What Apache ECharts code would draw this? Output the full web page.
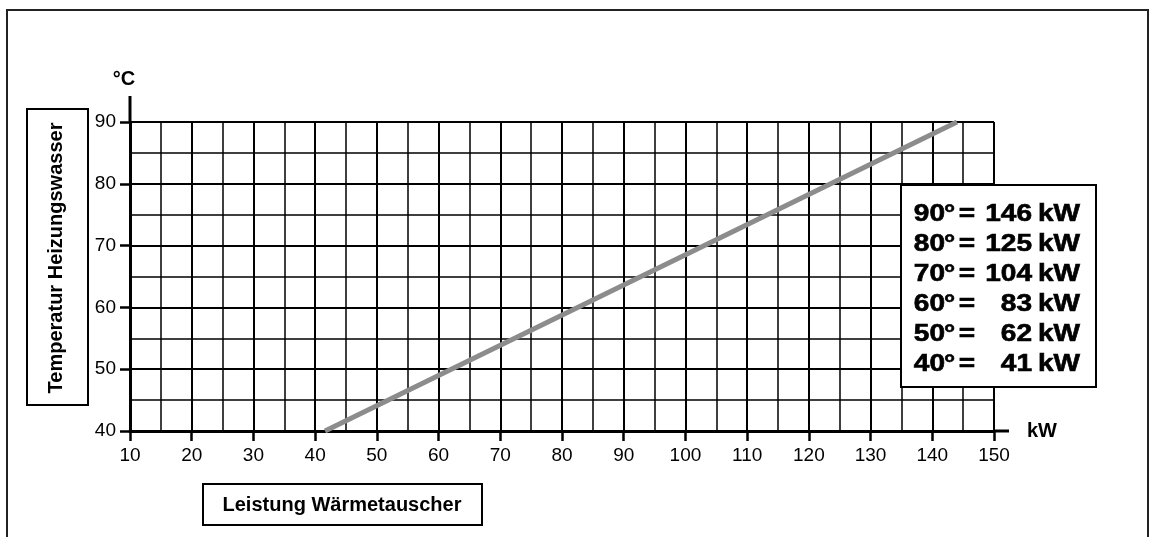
<!DOCTYPE html>
<html>
<head>
<meta charset="utf-8">
<script src="https://cdn.jsdelivr.net/npm/echarts@6/dist/echarts.min.js"></script>
<style>
html, body { margin: 0; padding: 0; background: #fff; }
#chart { width: 1152px; height: 537px; }
</style>
</head>
<body>
<div id="chart"></div>
<script>
// axis ranges
var xMin = 10, xMax = 150, xStep = 10;
var yMin = 40, yMax = 90, yStep = 10;

// grey line: kW at 40 deg and at 90 deg
var lineKW = [41.6, 144];
var lineTemp = [40, 90];

// table in the box
var tableTemp = [90, 80, 70, 60, 50, 40];
var tableKW = [146, 125, 104, 83, 62, 41];

var font = "'Liberation Sans', Arial, Helvetica, sans-serif";

var chartDom = document.getElementById('chart');
var myChart = echarts.init(chartDom);

var lineData = [];
for (var i = 0; i < lineKW.length; i++) {
  lineData.push([lineKW[i], lineTemp[i]]);
}

var axisCommon = {
  type: 'value',
  axisLine: { show: true, lineStyle: { color: '#000', width: 3 } },
  axisTick: { show: true, length: 10, lineStyle: { color: '#000', width: 2.5 } },
  splitLine: { show: true, lineStyle: { color: '#000', width: 2 } },
  minorTick: { show: false, splitNumber: 2 },
  minorSplitLine: { show: true, lineStyle: { color: '#000', width: 1.5 } }
};

var option = {
  animation: false,
  grid: { left: 130, right: 158, top: 122, bottom: 106 },
  xAxis: Object.assign({}, axisCommon, {
    min: xMin, max: xMax, interval: xStep,
    name: 'kW',
    nameLocation: 'end',
    nameGap: 33,
    nameTextStyle: { color: '#000', fontFamily: font, fontWeight: 'bold', fontSize: 20, align: 'left', verticalAlign: 'middle' },
    axisLabel: { color: '#000', fontFamily: font, fontSize: 19, margin: 15 }
  }),
  yAxis: Object.assign({}, axisCommon, {
    min: yMin, max: yMax, interval: yStep,
    name: '°C',
    nameLocation: 'end',
    nameGap: 33,
    nameTextStyle: { color: '#000', fontFamily: font, fontWeight: 'bold', fontSize: 20, align: 'center', verticalAlign: 'bottom', padding: [0, 12, 0, 0] },
    axisLabel: { color: '#000', fontFamily: font, fontSize: 19, margin: 14 }
  }),
  series: [
    {
      type: 'line',
      data: lineData,
      symbol: 'none',
      silent: true,
      z: 5,
      lineStyle: { color: '#8c8c8c', width: 5, cap: 'butt' }
    }
  ]
};
myChart.setOption(option);

// boxes, frame, axis extensions
var graphics = [];
graphics.push({
  type: 'rect', z: 0, silent: true,
  shape: { x: 7, y: 10, width: 1141, height: 600 },
  style: { fill: 'none', stroke: '#222', lineWidth: 2 }
});

// y name box
graphics.push({
  type: 'rect', z: 100, silent: true,
  shape: { x: 27, y: 109, width: 61, height: 296 },
  style: { fill: '#fff', stroke: '#000', lineWidth: 2 }
});
graphics.push({
  type: 'text', z: 101, silent: true,
  x: 56, y: 258, rotation: Math.PI / 2,
  style: { text: 'Temperatur Heizungswasser', font: 'bold 20px ' + font, fill: '#000', align: 'center', verticalAlign: 'middle' }
});

// x name box
graphics.push({
  type: 'rect', z: 100, silent: true,
  shape: { x: 203, y: 484, width: 279, height: 41 },
  style: { fill: '#fff', stroke: '#000', lineWidth: 2 }
});
graphics.push({
  type: 'text', z: 101, silent: true,
  x: 342, y: 505,
  style: { text: 'Leistung Wärmetauscher', font: 'bold 20px ' + font, fill: '#000', align: 'center', verticalAlign: 'middle' }
});

// table box
graphics.push({
  type: 'rect', z: 100, silent: true,
  shape: { x: 901, y: 185, width: 195, height: 202 },
  style: { fill: '#fff', stroke: '#000', lineWidth: 2 }
});
var rowFont = 'bold 23px ' + font;
var sx = 1.22;
function cell(x, y, text, align) {
  return { type: 'text', z: 101, silent: true, x: x, y: y, scaleX: sx,
    style: { text: text, font: rowFont, fill: '#000', align: align, verticalAlign: 'middle', stroke: '#000', lineWidth: 0.6 } };
}
for (var r = 0; r < tableTemp.length; r++) {
  var cy = 215 + r * 30;
  graphics.push(cell(945, cy, String(tableTemp[r]), 'right'));
  graphics.push(cell(944, cy, '°', 'left'));
  graphics.push(cell(967, cy, '=', 'center'));
  graphics.push(cell(1032, cy, String(tableKW[r]), 'right'));
  graphics.push(cell(1038, cy, 'kW', 'left'));
}

// axis lines run a little past the grid
var p0 = myChart.convertToPixel({ gridIndex: 0 }, [xMin, yMin]);
var p1 = myChart.convertToPixel({ gridIndex: 0 }, [xMax, yMax]);
graphics.push({
  type: 'line', z: 10, silent: true,
  shape: { x1: p0[0], y1: p1[1], x2: p0[0], y2: p1[1] - 26 },
  style: { stroke: '#000', lineWidth: 3 }
});
graphics.push({
  type: 'line', z: 10, silent: true,
  shape: { x1: p1[0], y1: p0[1], x2: p1[0] + 15, y2: p0[1] },
  style: { stroke: '#000', lineWidth: 3 }
});

myChart.setOption({ graphic: graphics });
</script>
</body>
</html>
